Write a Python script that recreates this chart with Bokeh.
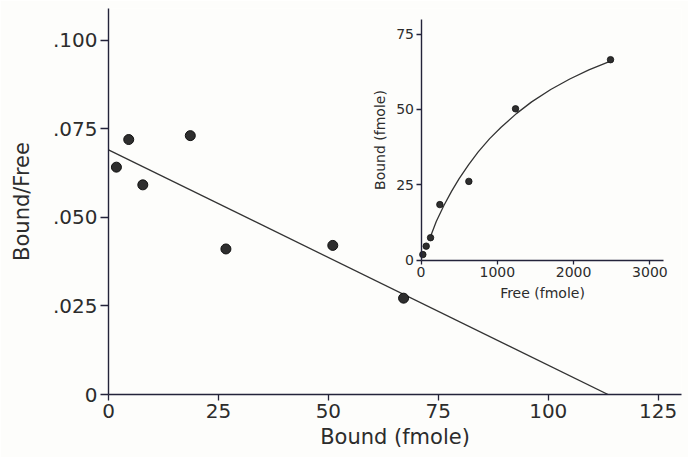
from bokeh.plotting import figure
from bokeh.models import Range1d, LinearAxis, FixedTicker
from bokeh.embed import file_html
from bokeh.resources import INLINE

# ---------------- data ----------------
# Scatchard plot (main)
bound = [1.8, 4.6, 7.8, 18.6, 26.7, 51.0, 67.1]
bound_free = [0.0642, 0.0720, 0.0592, 0.0731, 0.0411, 0.0421, 0.0272]
fit_x = [0.0, 113.6]
fit_y = [0.0691, 0.0]

x_ticks = [0, 25, 50, 75, 100, 125]
y_ticks = [0.0, 0.025, 0.050, 0.075, 0.100]
y_tick_labels = ["0", ".025", ".050", ".075", ".100"]

# Saturation curve (inset)
free = [24, 68, 125, 247, 627, 1239, 2484]
bound_inset = [1.8, 4.6, 7.4, 18.4, 26.1, 50.2, 66.5]
curve_free = [125, 200, 300, 400, 500, 625, 750, 900, 1050, 1250, 1450, 1700, 1950, 2200, 2500]
curve_bound = [7.8, 12.8, 18.1, 22.8, 27.0, 31.7, 35.9, 40.3, 44.1, 48.6, 52.5, 56.6, 60.1, 63.1, 66.2]
inset_x_ticks = [0, 1000, 2000, 3000]
inset_y_ticks = [0, 25, 50, 75]

# ---------------- layout ----------------
W, H = 688, 457
BL, BR, BT, BB = 108, 7, 8, 63
FW, FH = W - BL - BR, H - BT - BB
X_END, Y_END = 130.3, 0.109

# inset placement inside the frame (pixels from frame left / frame bottom)
IN_X0, IN_KX = 312.5, 0.0763     # px of x=0, px per unit
IN_Y0, IN_KY = 134.5, 3.012      # px of y=0, px per unit
IN_X_MAX, IN_Y_MAX = 3182, 80

FONT = "DejaVu Sans"
TXT = "#2c2c2c"
AX = "#23233a"
DOT = "#2e2e2e"

p = figure(width=W, height=H, x_range=Range1d(0, X_END), y_range=Range1d(0, Y_END),
           output_backend="svg", toolbar_location=None,
           min_border_left=BL, min_border_right=BR, min_border_top=BT, min_border_bottom=BB,
           background_fill_color="#fdfdfb", border_fill_color="#fdfdfb")
p.outline_line_color = None
p.xgrid.visible = False
p.ygrid.visible = False

p.extra_x_ranges = {"ix": Range1d(-IN_X0 / IN_KX, (FW - IN_X0) / IN_KX)}
p.extra_y_ranges = {"iy": Range1d(-IN_Y0 / IN_KY, (FH - IN_Y0) / IN_KY)}


def style_axis(ax, fs_tick, fs_lab, tick_out, lab_standoff, axlab_standoff):
    ax.axis_line_color = AX
    ax.axis_line_width = 1.4
    ax.major_tick_line_color = AX
    ax.major_tick_line_width = 1.3
    ax.major_tick_in = 0
    ax.major_tick_out = tick_out
    ax.minor_tick_line_color = None
    ax.major_label_text_font = FONT
    ax.major_label_text_font_size = fs_tick
    ax.major_label_text_color = TXT
    ax.major_label_standoff = lab_standoff
    ax.axis_label_text_font = FONT
    ax.axis_label_text_font_size = fs_lab
    ax.axis_label_text_font_style = "normal"
    ax.axis_label_text_color = TXT
    ax.axis_label_standoff = axlab_standoff


# main axes
xa = p.xaxis[0]
xa.ticker = FixedTicker(ticks=x_ticks)
xa.axis_label = "Bound (fmole)"
style_axis(xa, "20px", "21px", 6, 3, 4)

ya = p.yaxis[0]
ya.ticker = FixedTicker(ticks=y_ticks)
ya.major_label_overrides = {t: s for t, s in zip(y_ticks, y_tick_labels)}
ya.axis_label = "Bound/Free"
style_axis(ya, "20px", "21px", 8, 3, 16)

# inset axes (fixed inside the frame)
ixa = LinearAxis(x_range_name="ix", y_range_name="iy", fixed_location=0,
                 bounds=(0, IN_X_MAX), ticker=FixedTicker(ticks=inset_x_ticks),
                 axis_label="Free (fmole)")
style_axis(ixa, "14px", "14px", 4, 3, 4)
p.add_layout(ixa, "below")

iya = LinearAxis(x_range_name="ix", y_range_name="iy", fixed_location=0,
                 bounds=(0, IN_Y_MAX), ticker=FixedTicker(ticks=inset_y_ticks),
                 axis_label="Bound (fmole)")
style_axis(iya, "14px", "14px", 5, 2, 6)
p.add_layout(iya, "left")

# main data
p.line(fit_x, fit_y, line_color="#333333", line_width=1.3)
p.scatter(bound, bound_free, size=10, fill_color=DOT, line_color="#111111", line_width=1)

# inset data
p.line(curve_free, curve_bound, x_range_name="ix", y_range_name="iy",
       line_color="#333333", line_width=1.3)
p.scatter(free, bound_inset, x_range_name="ix", y_range_name="iy",
          size=6.5, fill_color=DOT, line_color="#111111", line_width=0.8)

open("out.html", "w").write(file_html(p, INLINE))
